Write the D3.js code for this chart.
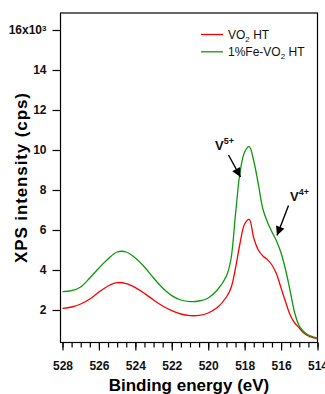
<!DOCTYPE html>
<html>
<head>
<meta charset="utf-8">
<script src="https://cdn.jsdelivr.net/npm/d3@7"></script>
<style>
body { margin: 0; background: #fff; }
text { font-family: Arial, "Liberation Sans", sans-serif; }
</style>
</head>
<body>
<div id="chart"></div>
<script>
// binding energy grid (eV), shared by both spectra
const energy = [528, 527.5, 527, 526.5, 526, 525.5, 525, 524.5, 524, 523.5, 523, 522.5, 522, 521.5, 521,
    520.5, 520, 519.5, 519, 518.75, 518.5, 518.25, 518, 517.75, 517.5, 517.25, 517, 516.75, 516.5,
    516.25, 516, 515.75, 515.5, 515.25, 515, 514.75, 514.5, 514.25, 514];

// intensities in units of 10^3 cps
const vo2 = [2.08, 2.15, 2.3, 2.55, 2.9, 3.2, 3.37, 3.32, 3.12, 2.83, 2.5, 2.2, 1.97, 1.8, 1.72,
    1.73, 1.85, 2.12, 2.65, 3.1, 4.1, 5.35, 6.3, 6.53, 5.6, 5.0, 4.7, 4.52, 4.25,
    3.8, 3.1, 2.4, 1.75, 1.35, 1.1, 0.85, 0.7, 0.62, 0.56];

const feVo2 = [2.92, 2.97, 3.15, 3.6, 4.1, 4.55, 4.9, 4.9, 4.6, 4.15, 3.6, 3.1, 2.72, 2.5, 2.42,
    2.45, 2.6, 3.0, 3.7, 4.55, 6.8, 8.9, 9.9, 10.17, 9.45, 8.3, 7.05, 6.4, 5.9,
    5.45, 4.85, 4.0, 2.95, 1.85, 1.2, 0.92, 0.75, 0.66, 0.6];

const xTicks = [528, 526, 524, 522, 520, 518, 516, 514];
const yTicks = [2, 4, 6, 8, 10, 12, 14, 16];

const series = [
    { name: 'VO', sub: '2', rest: ' HT', values: vo2, color: '#ff0000' },
    { name: '1%Fe-VO', sub: '2', rest: ' HT', values: feVo2, color: '#0c990c' }
];

const width = 325, height = 394;
const plotLeft = 60.5, plotRight = 317.5, plotTop = 13, plotBottom = 342.5;

const svg = d3.select('#chart').append('svg')
    .attr('width', width)
    .attr('height', height);

const x = d3.scaleLinear().domain([528, 514]).range([62.5, 317.5]);
const y = d3.scaleLinear().domain([0, 16]).range([350, 30]);

// frame
svg.append('rect')
    .attr('x', plotLeft).attr('y', plotTop)
    .attr('width', plotRight - plotLeft).attr('height', plotBottom - plotTop)
    .attr('fill', 'none').attr('stroke', '#000').attr('stroke-width', 1.2);

// x axis: minor ticks every 0.5 eV, labelled majors every 2 eV
const xMinor = svg.append('g')
    .attr('transform', `translate(0,${plotBottom})`)
    .call(d3.axisBottom(x).tickValues(d3.range(514, 528.01, 0.5)).tickSize(5).tickFormat(''));
xMinor.select('.domain').remove();

const xAxis = svg.append('g')
    .attr('transform', `translate(0,${plotBottom})`)
    .call(d3.axisBottom(x).tickValues(xTicks).tickSize(8).tickPadding(11).tickFormat(d3.format('d')));
xAxis.select('.domain').remove();

// y axis
const yAxis = svg.append('g')
    .attr('transform', `translate(${plotLeft},0)`)
    .call(d3.axisLeft(y).tickValues(yTicks).tickSize(8).tickPadding(6));
yAxis.select('.domain').remove();
yAxis.selectAll('.tick text').filter(d => d === 16)
    .text('16x10')
    .append('tspan').attr('dy', '-0.45em').attr('font-size', 8).text('3');

svg.selectAll('.tick line').attr('stroke-width', 1.2);
svg.selectAll('.tick text')
    .attr('font-size', 12).attr('font-weight', 'bold').attr('fill', '#111')
    .attr('font-family', 'Arial, "Liberation Sans", sans-serif');

// axis titles
svg.append('text')
    .attr('x', (plotLeft + plotRight) / 2).attr('y', 391)
    .attr('text-anchor', 'middle')
    .attr('font-size', 17).attr('font-weight', 'bold')
    .text('Binding energy (eV)');

svg.append('text')
    .attr('transform', 'translate(27,178) rotate(-90)')
    .attr('text-anchor', 'middle')
    .attr('font-size', 17).attr('font-weight', 'bold')
    .attr('textLength', 170).attr('lengthAdjust', 'spacing')
    .text('XPS intensity (cps)');

// spectra
const line = d3.line()
    .x((d, i) => x(energy[i]))
    .y(d => y(d))
    .curve(d3.curveCatmullRom.alpha(0.5));

svg.selectAll('.spectrum')
    .data(series)
    .join('path')
    .attr('class', 'spectrum')
    .attr('d', d => line(d.values))
    .attr('fill', 'none')
    .attr('stroke', d => d.color)
    .attr('stroke-width', 1.3);

// legend
const legend = svg.append('g').attr('transform', 'translate(201,34.5)');
const item = legend.selectAll('g')
    .data(series)
    .join('g')
    .attr('transform', (d, i) => `translate(0,${i * 17.3})`);
item.append('line')
    .attr('x1', 0).attr('x2', 22)
    .attr('stroke', d => d.color).attr('stroke-width', 1.3);
const label = item.append('text')
    .attr('x', 27).attr('y', 4)
    .attr('font-size', 12).attr('fill', '#111');
label.append('tspan').text(d => d.name);
label.append('tspan').attr('font-size', 8).attr('dy', 3).text(d => d.sub);
label.append('tspan').attr('dy', -3).text(d => d.rest);

// annotations
svg.append('defs').append('marker')
    .attr('id', 'arrow')
    .attr('viewBox', '0 -5 10 10')
    .attr('refX', 10).attr('refY', 0)
    .attr('orient', 'auto')
    .attr('markerUnits', 'userSpaceOnUse')
    .attr('markerWidth', 11).attr('markerHeight', 9)
    .append('path')
    .attr('d', 'M0,-5L10,0L0,5Z')
    .attr('fill', '#000');

const notes = [
    { ion: 'V', charge: '5+', tx: 215, ty: 150, x1: 228.5, y1: 155, x2: 240.5, y2: 177 },
    { ion: 'V', charge: '4+', tx: 290, ty: 201, x1: 288.5, y1: 205.5, x2: 277, y2: 235.5 }
];

const note = svg.selectAll('.note').data(notes).join('g').attr('class', 'note');
const noteText = note.append('text')
    .attr('x', d => d.tx).attr('y', d => d.ty)
    .attr('font-size', 13).attr('font-weight', 'bold').attr('fill', '#111');
noteText.append('tspan').text(d => d.ion);
noteText.append('tspan').attr('dy', -6).attr('font-size', 9).text(d => d.charge);
note.append('line')
    .attr('x1', d => d.x1).attr('y1', d => d.y1)
    .attr('x2', d => d.x2).attr('y2', d => d.y2)
    .attr('stroke', '#000').attr('stroke-width', 1.4)
    .attr('marker-end', 'url(#arrow)');
</script>
</body>
</html>
